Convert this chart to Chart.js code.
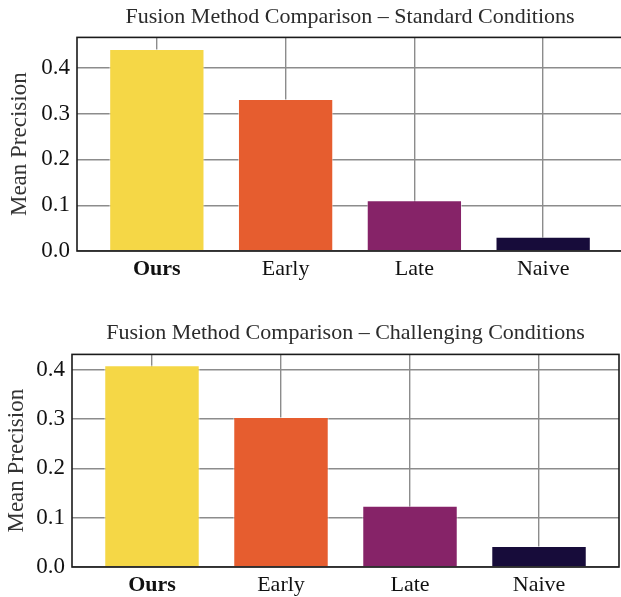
<!DOCTYPE html>
<html>
<head>
<meta charset="utf-8">
<script src="https://cdn.jsdelivr.net/npm/chart.js@4.4.1/dist/chart.umd.min.js"></script>
<style>
  html, body { margin: 0; padding: 0; background: #fff; overflow: hidden; width: 621px; height: 597px; }
  .panel { position: absolute; left: 0; }
  #panelTop { top: 0; width: 640px; height: 300px; }
  #panelBottom { top: 300px; width: 621px; height: 297px; }
</style>
</head>
<body>
<div class="panel" id="panelTop"><canvas id="chartStandard"></canvas></div>
<div class="panel" id="panelBottom"><canvas id="chartChallenging"></canvas></div>
<script>
// Fusion methods and their mean precision under each condition
const methods = ['Ours', 'Early', 'Late', 'Naive'];
const standardPrecision = [0.441, 0.332, 0.111, 0.031];
const challengingPrecision = [0.409, 0.304, 0.124, 0.0425];
const barColors = ['#f5d746', '#e65d2f', '#862368', '#170c3a'];
const yTickValues = [0, 0.1, 0.2, 0.3, 0.4];

const FONT = '"Liberation Serif", "Times New Roman", serif';

// Closed black frame around the plotting area
const framePlugin = {
  id: 'frame',
  afterDatasetsDraw(chart) {
    const { ctx, chartArea: a } = chart;
    ctx.save();
    ctx.strokeStyle = '#1a1a1a';
    ctx.lineWidth = 1.6;
    ctx.strokeRect(a.left, a.top, a.right - a.left, a.bottom - a.top);
    ctx.restore();
  }
};

function makeChart(canvasId, titleText, values, cfg) {
  return new Chart(document.getElementById(canvasId), {
    type: 'bar',
    data: {
      datasets: [{
        data: values.map((v, i) => ({ x: i, y: v })),
        backgroundColor: barColors,
        borderColor: 'rgba(255,255,255,0.55)',
        borderWidth: 1,
        categoryPercentage: 1.0,
        barPercentage: 0.74
      }]
    },
    options: {
      responsive: true,
      maintainAspectRatio: false,
      animation: false,
      layout: { padding: { left: 0, right: cfg.padRight, top: 0, bottom: 0 } },
      plugins: {
        legend: { display: false },
        tooltip: { enabled: false },
        title: {
          display: true,
          text: titleText,
          fullSize: false,
          color: '#2b2b2b',
          font: { family: FONT, size: 22, weight: 'normal' },
          padding: cfg.titlePad
        }
      },
      scales: {
        x: {
          type: 'linear',
          offset: false,
          min: -0.62,
          max: 3.62,
          afterBuildTicks: axis => { axis.ticks = methods.map((_, i) => ({ value: i })); },
          afterFit: scale => { scale.height = cfg.xAxisHeight; },
          grid: { color: '#8c8c8c', lineWidth: 1.4, drawTicks: false, offset: false },
          border: { display: false },
          ticks: {
            padding: 5,
            color: '#111',
            maxRotation: 0,
            autoSkip: false,
            callback: v => methods[v],
            font: ctx => ({ family: FONT, size: 22, weight: ctx.index === 0 ? 'bold' : 'normal' })
          }
        },
        y: {
          min: 0,
          max: cfg.yMax,
          afterBuildTicks: axis => { axis.ticks = yTickValues.map(v => ({ value: v })); },
          afterFit: scale => { scale.width = cfg.yAxisWidth; },
          grid: { color: '#8c8c8c', lineWidth: 1.4, drawTicks: false },
          border: { display: false },
          title: {
            display: true,
            text: 'Mean Precision',
            color: '#333',
            font: { family: FONT, size: 23 },
            padding: { top: cfg.yTitlePad, bottom: 0 }
          },
          ticks: {
            padding: 7,
            color: '#111',
            font: { family: FONT, size: 23 },
            callback: v => v.toFixed(1)
          }
        }
      }
    },
    plugins: [framePlugin]
  });
}

makeChart('chartStandard', 'Fusion Method Comparison \u2013 Standard Conditions', standardPrecision, {
  padRight: 17, titlePad: { top: 4, bottom: 7 }, xAxisHeight: 49, yAxisWidth: 77, yMax: 0.4665, yTitlePad: 6
});
makeChart('chartChallenging', 'Fusion Method Comparison \u2013 Challenging Conditions', challengingPrecision, {
  padRight: 2, titlePad: { top: 20, bottom: 8 }, xAxisHeight: 30, yAxisWidth: 72, yMax: 0.431, yTitlePad: 3
});
</script>
</body>
</html>
